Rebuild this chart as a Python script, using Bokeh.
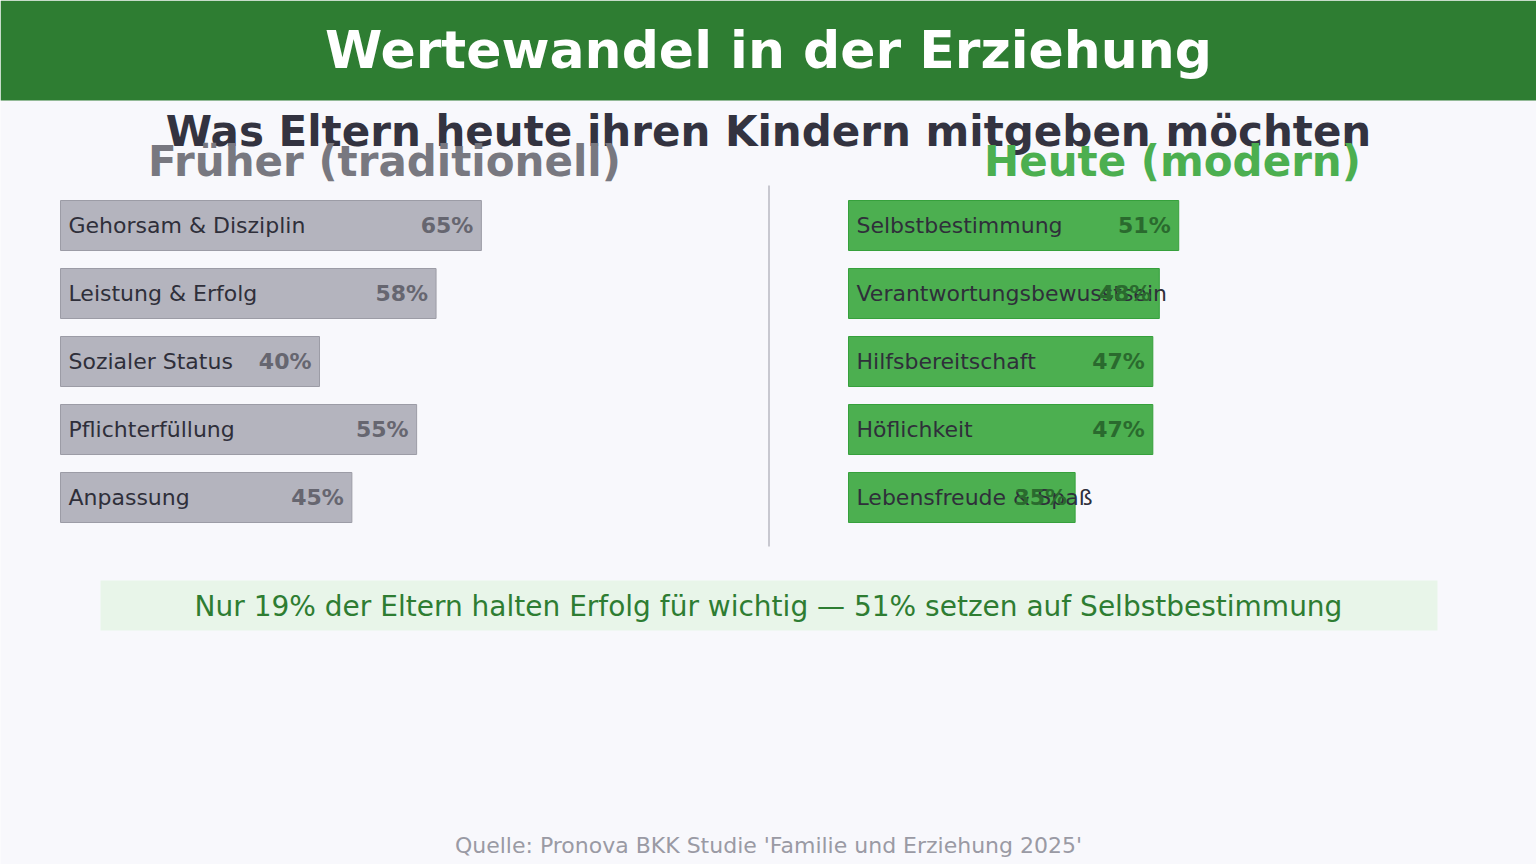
from bokeh.plotting import figure
from bokeh.models import Range1d, ColumnDataSource
from bokeh.core.properties import value
from bokeh.embed import file_html
from bokeh.resources import INLINE

# --- data -------------------------------------------------------------
trad_labels = ["Gehorsam & Disziplin", "Leistung & Erfolg", "Sozialer Status",
               "Pflichterfüllung", "Anpassung"]
trad_values = [65, 58, 40, 55, 45]

modern_labels = ["Selbstbestimmung", "Verantwortungsbewusstsein", "Hilfsbereitschaft",
                 "Höflichkeit", "Lebensfreude & Spaß"]
modern_values = [51, 48, 47, 47, 35]

title = "Wertewandel in der Erziehung"
subtitle = "Was Eltern heute ihren Kindern mitgeben möchten"
left_head = "Früher (traditionell)"
right_head = "Heute (modern)"
callout = "Nur 19% der Eltern halten Erfolg für wichtig — 51% setzen auf Selbstbestimmung"
source_note = "Quelle: Pronova BKK Studie 'Familie und Erziehung 2025'"

# --- layout constants ---------------------------------------------------
W, H = 1536, 864
BG = "#f8f8fc"
FONT = value("DejaVu Sans")
PX_PER_PCT = 6.475           # horizontal scale of the bar panels
ROW_PX = 68                  # vertical pitch of the bar rows
FIRST_ROW_Y = 225            # centre of the first row
LEFT_X0, RIGHT_X0 = 60, 848  # zero lines of the two panels

p = figure(width=W, height=H, x_range=Range1d(0, W), y_range=Range1d(H, 0),
           output_backend="svg", toolbar_location=None,
           x_axis_location=None, y_axis_location=None, min_border=0,
           background_fill_color=BG, border_fill_color=BG, outline_line_color=None)
p.xgrid.visible = False
p.ygrid.visible = False

# percentage scales for the two panels and a row scale shared by both
p.extra_x_ranges = {
    "trad": Range1d(-LEFT_X0 / PX_PER_PCT, (W - LEFT_X0) / PX_PER_PCT),
    "modern": Range1d(-RIGHT_X0 / PX_PER_PCT, (W - RIGHT_X0) / PX_PER_PCT),
}
p.extra_y_ranges = {"rows": Range1d((H - FIRST_ROW_Y) / ROW_PX, -FIRST_ROW_Y / ROW_PX)}

# header band
p.quad(left=0, right=W, top=0, bottom=100, fill_color="#2e7d32", line_color=None)
p.text(x=[W / 2], y=[49], text=[title], text_font=FONT, text_font_style="bold",
       text_font_size="52px", text_color="white", text_align="center",
       text_baseline="middle")

# subtitle and column headings
p.text(x=[W / 2], y=[131], text=[subtitle], text_font=FONT, text_font_style="bold",
       text_font_size="42px", text_color="#333340", text_align="center",
       text_baseline="middle")
p.text(x=[384], y=[161], text=[left_head], text_font=FONT, text_font_style="bold",
       text_font_size="42px", text_color="#787880", text_align="center",
       text_baseline="middle")
p.text(x=[1172], y=[161], text=[right_head], text_font=FONT, text_font_style="bold",
       text_font_size="42px", text_color="#4caf50", text_align="center",
       text_baseline="middle")

# divider between the panels
p.segment(x0=[768.5], y0=[185], x1=[768.5], y1=[546], line_color="#c8c8d0", line_width=2)


def panel(labels, values, xr, fill, stroke, val_color):
    src = ColumnDataSource(dict(row=list(range(len(labels))), val=values, label=labels,
                                txt=[f"{v}%" for v in values], zero=[0] * len(values)))
    p.hbar(y="row", height=50 / ROW_PX, left="zero", right="val", source=src,
           fill_color=fill, line_color=stroke, line_width=1,
           x_range_name=xr, y_range_name="rows")
    p.text(x="zero", y="row", text="label", source=src, x_offset=8,
           text_font=FONT, text_font_size="22px", text_color="#2f2f3a",
           text_align="left", text_baseline="middle",
           x_range_name=xr, y_range_name="rows")
    p.text(x="val", y="row", text="txt", source=src, x_offset=-8,
           text_font=FONT, text_font_style="bold", text_font_size="22px",
           text_color=val_color, text_align="right", text_baseline="middle",
           x_range_name=xr, y_range_name="rows")


panel(trad_labels, trad_values, "trad", "#b4b4be", "#9c9ca6", "#666670")
panel(modern_labels, modern_values, "modern", "#4caf50", "#36a03c", "#2a6a2e")

# key finding
p.quad(left=100, right=1437, top=580, bottom=630, fill_color="#e8f5e9", line_color=None)
p.text(x=[768], y=[606], text=[callout], text_font=FONT, text_font_size="28px",
       text_color="#2e7d32", text_align="center", text_baseline="middle")

# source line
p.text(x=[768], y=[845], text=[source_note], text_font=FONT, text_font_size="22px",
       text_color="#9a9aa4", text_align="center", text_baseline="middle")

open("out.html", "w").write(file_html(p, INLINE))
